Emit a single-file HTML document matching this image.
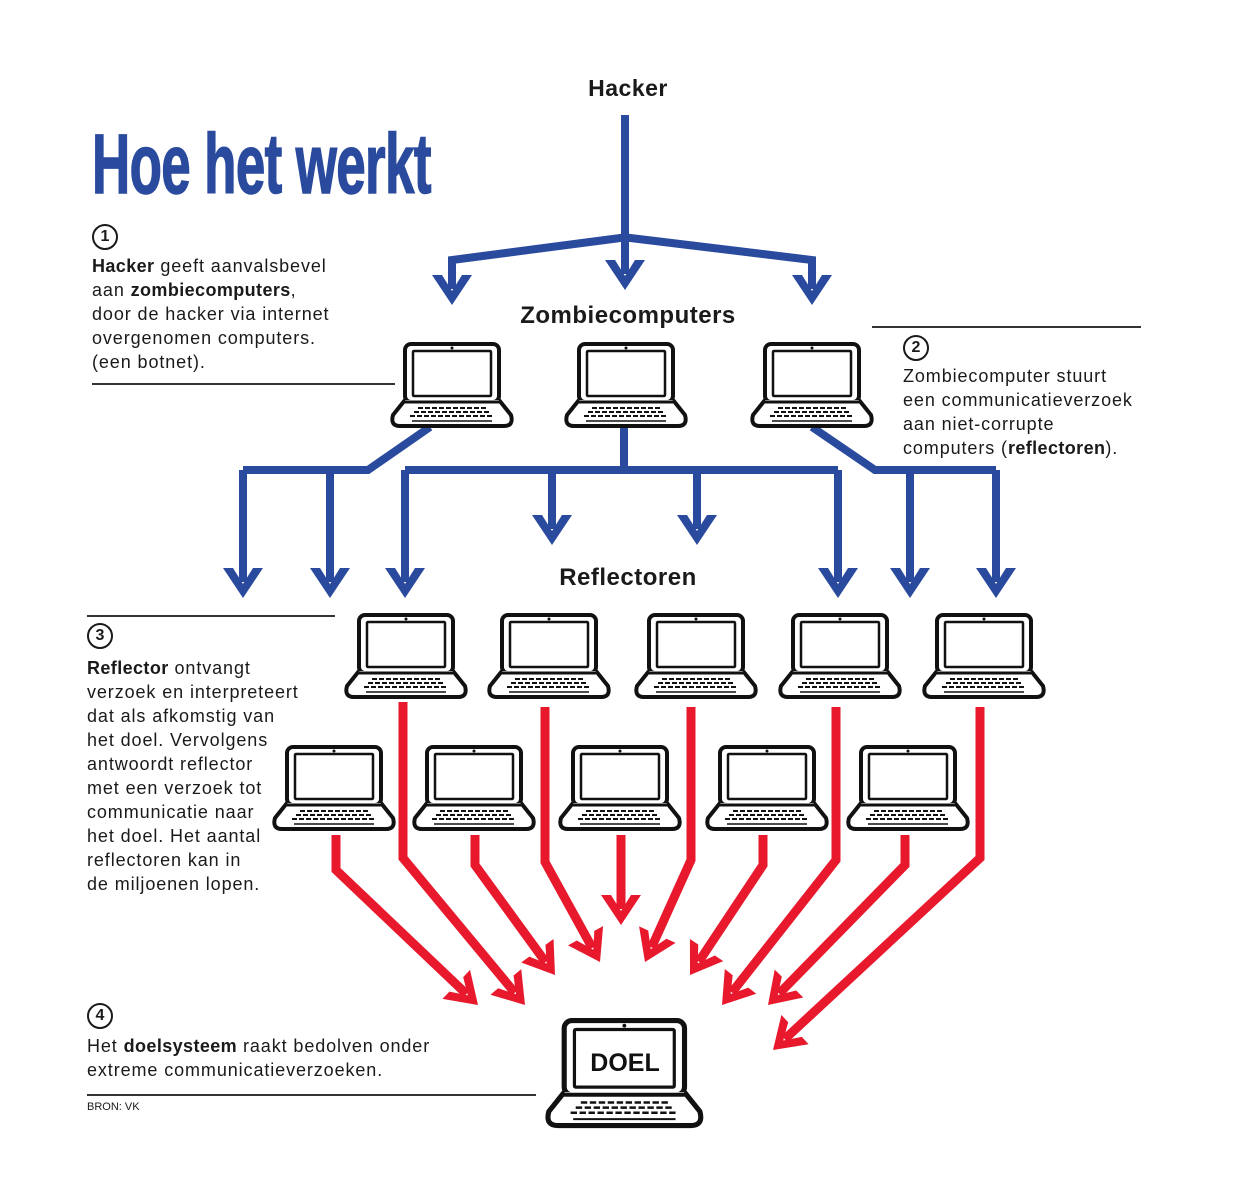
<!DOCTYPE html>
<html><head><meta charset="utf-8"><style>
html,body{margin:0;padding:0;background:#fff;}
#c{position:relative;width:1240px;height:1200px;overflow:hidden;font-family:"Liberation Sans",sans-serif;color:#1a1a1a;}
.p{position:absolute;font-size:18px;line-height:24px;letter-spacing:0.9px;}
.p b{font-weight:bold;letter-spacing:0.4px;}
.n{position:absolute;width:22px;height:22px;border:2.5px solid #1a1a1a;border-radius:50%;text-align:center;font-weight:bold;font-size:16px;line-height:22px;}
.h{position:absolute;font-weight:bold;text-align:center;width:400px;letter-spacing:0.5px;}
.ln{position:absolute;height:1.5px;background:#333;}
</style></head><body><div id="c">
<div style="position:absolute;left:92px;top:116px;font-size:84px;font-weight:bold;color:#2a4a9e;transform:scaleX(0.63);transform-origin:0 0;white-space:nowrap;letter-spacing:-1px;font-family:'Liberation Sans Narrow','Liberation Sans',sans-serif;-webkit-text-stroke:1.5px #2a4a9e;">Hoe het werkt</div>
<div class="h" style="left:428px;top:75px;font-size:23px;">Hacker</div>
<div class="h" style="left:428px;top:302px;font-size:24px;">Zombiecomputers</div>
<div class="h" style="left:428px;top:564px;font-size:24px;">Reflectoren</div>

<div class="n" style="left:92px;top:224px;">1</div>
<div class="p" style="left:92px;top:254px;"><b>Hacker</b> geeft aanvalsbevel<br>aan <b>zombiecomputers</b>,<br>door de hacker via internet<br>overgenomen computers.<br>(een botnet).</div>
<div class="ln" style="left:92px;top:383px;width:303px;"></div>

<div class="ln" style="left:872px;top:326px;width:269px;"></div>
<div class="n" style="left:903px;top:335px;">2</div>
<div class="p" style="left:903px;top:364px;">Zombiecomputer stuurt<br>een communicatieverzoek<br>aan niet-corrupte<br>computers (<b>reflectoren</b>).</div>

<div class="ln" style="left:87px;top:615px;width:248px;"></div>
<div class="n" style="left:87px;top:623px;">3</div>
<div class="p" style="left:87px;top:656px;"><b>Reflector</b> ontvangt<br>verzoek en interpreteert<br>dat als afkomstig van<br>het doel. Vervolgens<br>antwoordt reflector<br>met een verzoek tot<br>communicatie naar<br>het doel. Het aantal<br>reflectoren kan in<br>de miljoenen lopen.</div>

<div class="n" style="left:87px;top:1003px;">4</div>
<div class="p" style="left:87px;top:1034px;">Het <b>doelsysteem</b> raakt bedolven onder<br>extreme communicatieverzoeken.</div>
<div class="ln" style="left:87px;top:1094px;width:449px;"></div>
<div style="position:absolute;left:87px;top:1101px;font-size:11px;">BRON: VK</div>

<svg id="s" width="1240" height="1200" style="position:absolute;left:0;top:0" xmlns="http://www.w3.org/2000/svg">
<defs>
<g id="lap">
<rect x="15" y="2" width="94" height="58" rx="6" fill="#fff" stroke="#111" stroke-width="4"/>
<rect x="23" y="9" width="78" height="45" rx="1" fill="#fff" stroke="#111" stroke-width="2.5"/>
<circle cx="62" cy="6" r="1.5" fill="#111"/>
<path d="M15,58 L3,73 Q0,84 10,84 L114,84 Q124,84 121,73 L109,58" fill="#fff" stroke="#111" stroke-width="4" stroke-linejoin="round"/>
<line x1="15" y1="60" x2="109" y2="60" stroke="#111" stroke-width="3"/>
<g stroke="#111" stroke-width="2" stroke-dasharray="5 2">
<line x1="28" y1="66" x2="96" y2="66"/><line x1="24" y1="70" x2="100" y2="70"/><line x1="20" y1="74" x2="104" y2="74"/>
</g>
<line x1="22" y1="79" x2="102" y2="79" stroke="#111" stroke-width="1.5"/>
</g>
</defs>
<g id="lines"></g>
<use href="#lap" x="390" y="342"/><use href="#lap" x="564" y="342"/><use href="#lap" x="750" y="342"/>
<use href="#lap" x="344" y="613"/><use href="#lap" x="487" y="613"/><use href="#lap" x="634" y="613"/><use href="#lap" x="778" y="613"/><use href="#lap" x="922" y="613"/>
<use href="#lap" x="272" y="745"/><use href="#lap" x="412" y="745"/><use href="#lap" x="558" y="745"/><use href="#lap" x="705" y="745"/><use href="#lap" x="846" y="745"/>
<g transform="translate(545,1018) scale(1.28)"><use href="#lap"/></g>
<text x="625" y="1071" text-anchor="middle" font-family="Liberation Sans,sans-serif" font-weight="bold" font-size="25" fill="#111">DOEL</text>
</svg>
<script>
var g=document.getElementById('lines'),NS='http://www.w3.org/2000/svg';
function pl(pts,col,w){var p=document.createElementNS(NS,'polyline');p.setAttribute('points',pts.map(function(a){return a.join(',')}).join(' '));p.setAttribute('fill','none');p.setAttribute('stroke',col);p.setAttribute('stroke-width',w);p.setAttribute('stroke-linejoin','miter');g.appendChild(p);}
function head(a,b,col){var dx=b[0]-a[0],dy=b[1]-a[1],L=Math.hypot(dx,dy);dx/=L;dy/=L;var nx=-dy,ny=dx;
function P(u,v){return [b[0]+dx*u+nx*v,b[1]+dy*u+ny*v];}
var pts=[P(0,0),P(-30,20),P(-30,10),P(-14,-0.01),P(-30,-10),P(-30,-20)];
var p=document.createElementNS(NS,'polygon');p.setAttribute('points',pts.map(function(a){return a.join(',')}).join(' '));p.setAttribute('fill',col);g.appendChild(p);}
function arr(pts,col,w){var n=pts.length,a=pts[n-2],b=pts[n-1];var dx=b[0]-a[0],dy=b[1]-a[1],L=Math.hypot(dx,dy);
var q=pts.slice(0,n-1);q.push([b[0]-dx/L*16,b[1]-dy/L*16]);pl(q,col,w);head(a,b,col);}
var B='#2a4a9e',R='#e8192c';
pl([[625,115],[625,237]],B,8);
arr([[625,230],[625,290]],B,8);
arr([[628,237],[452,260],[452,305]],B,8);
arr([[622,237],[812,260],[812,305]],B,8);
pl([[430,427],[368,470],[243,470]],B,8);
arr([[243,470],[243,598]],B,8);arr([[330,470],[330,598]],B,8);
pl([[624,427],[624,470]],B,8);pl([[405,470],[838,470]],B,8);
arr([[405,470],[405,598]],B,8);arr([[552,470],[552,545]],B,8);arr([[697,470],[697,545]],B,8);arr([[838,470],[838,598]],B,8);
pl([[812,427],[875,470],[996,470]],B,8);
arr([[910,470],[910,598]],B,8);arr([[996,470],[996,598]],B,8);
var r=[[[403,702],[403,858],[525,1005]],[[336,835],[336,870],[478,1005]],[[475,835],[475,865],[555,975]],[[545,707],[545,862],[600,962]],[[621,835],[621,925]],[[691,707],[691,860],[645,962]],[[763,835],[763,865],[690,975]],[[836,707],[836,860],[722,1005]],[[905,835],[905,865],[768,1005]],[[980,707],[980,858],[773,1050]]];
r.forEach(function(x){arr(x,R,9);});
</script>
</div></body></html>
